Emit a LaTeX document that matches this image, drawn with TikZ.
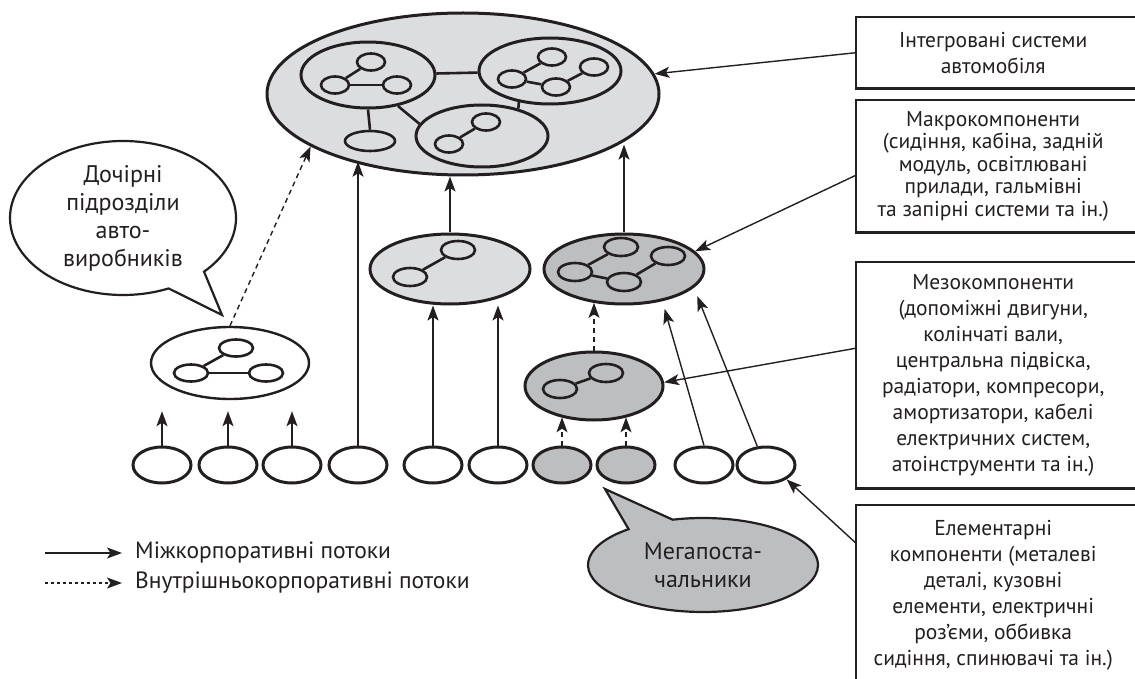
\documentclass[tikz,border=0pt]{standalone}
\usepackage{fontspec}
\setmainfont{PT Sans}
\usetikzlibrary{arrows.meta,positioning,shapes.geometric,shapes.callouts}
\definecolor{ink}{HTML}{231F20}
\definecolor{paleg}{HTML}{DCDDDF}
\definecolor{midg}{HTML}{BCBEC0}

\begin{document}
\begin{tikzpicture}[x=1pt,y=-1pt,font=\fontsize{21.5}{26}\selectfont,
  >={Stealth[length=15pt,width=11pt,inset=3.5pt]},
  ov/.style={ellipse,draw=ink,line width=3pt,inner sep=0pt},
  dot/.style={ov,line width=2.6pt,minimum width=28pt,minimum height=17pt},
  bead/.style={ov,line width=2.6pt,minimum width=34pt,minimum height=18pt},
  part/.style={ov,fill=white,minimum width=58pt,minimum height=36pt},
  lnk/.style={ink,line width=2.6pt},
  fl/.style={->,ink,line width=1.4pt},
  ifl/.style={fl,dash pattern=on 5pt off 4pt},
  lbl/.style={align=center,inner sep=0pt,text=ink},
  frame/.style={draw=ink,line width=2.6pt},
  bub/.style={ellipse callout,draw=ink,line width=2.2pt,inner sep=0pt,align=center,
              font=\fontsize{24}{28}\selectfont,text=ink}]
\useasboundingbox (0,0) rectangle (1135,679);
% ---------------- integrated systems
\node[ov,fill=paleg,minimum width=392pt,minimum height=162pt] (top) at (463,94) {};
\node[ov,fill=paleg,minimum width=134pt,minimum height=66pt] (g1) at (368,75) {};
\node[ov,fill=paleg,minimum width=142pt,minimum height=66pt] (g2) at (550,71) {};
\node[ov,fill=paleg,minimum width=132pt,minimum height=62pt] (g3) at (482,136) {};
\node[ov,minimum width=50pt,minimum height=20pt,line width=2.6pt] (lone) at (370,141) {};
\draw[lnk] (g1) -- (g2);
\draw[lnk] (g1.-46) -- (g3.169);
\draw[lnk] (g2.225) -- (g3.37);
\draw[lnk] (g1.south) -- (lone.north);
\node[dot] (g1t) at (371,62) {};
\node[dot] (g1l) at (335,85) {};
\node[dot] (g1r) at (397,85) {};
\node[dot] (g2t) at (552,57) {};
\node[dot] (g2l) at (512,79) {};
\node[dot] (g2b) at (556,87) {};
\node[dot] (g2r) at (594,67) {};
\node[dot] (g3t) at (486,122) {};
\node[dot] (g3b) at (449,144) {};
\foreach \x/\y in {g1l/g1r,g1l/g1t,g2l/g2t,g2l/g2b,g2b/g2r,g3b/g3t} \draw[lnk] (\x) -- (\y);
% ---------------- macro / meso components
\node[ov,fill=paleg,minimum width=160pt,minimum height=70pt] (m1) at (450,269) {};
\node[bead] (m1a) at (410,277) {};
\node[bead] (m1b) at (458,250) {};
\node[ov,fill=midg,minimum width=160pt,minimum height=70pt] (m2) at (624,269) {};
\node[bead] (m2t) at (621,247) {};
\node[bead] (m2l) at (575,272) {};
\node[bead] (m2b) at (624,282) {};
\node[bead] (m2r) at (668,256) {};
\node[ov,fill=midg,minimum width=138pt,minimum height=68pt] (m3) at (594,386) {};
\node[bead] (m3a) at (560,389) {};
\node[bead] (m3b) at (606,373) {};
\node[ov,fill=white,minimum width=158pt,minimum height=72pt,line width=2.4pt] (lc) at (230,363) {};
\node[bead,minimum height=17pt] (lct) at (236,348) {};
\node[bead,minimum height=17pt] (lcl) at (191,373) {};
\node[bead,minimum height=17pt] (lcr) at (266,373) {};
\foreach \x/\y in {m1a/m1b,m2l/m2t,m2l/m2b,m2b/m2r,m3a/m3b,lcl/lcr,lcl/lct} \draw[lnk] (\x) -- (\y);
% ---------------- elementary parts
\foreach \n/\x in {1/162,2/228,3/292,4/358,5/433,6/498,9/704,10/766}
  \node[part] (b\n) at (\x,465) {};
\foreach \n/\x in {7/562,8/626} \node[part,fill=midg] (b\n) at (\x,465) {};
% ---------------- flows
\foreach \n in {1,2,3} \draw[fl,shorten >=11pt] (b\n.north) -- (b\n.north |- lc.south);
\draw[fl] (b4.north) -- (b4.north |- top.211);
\foreach \n in {5,6} \draw[fl] (b\n.north) -- (b\n.north |- m1.south);
\draw[fl] (m1.north) -- (m1.north |- top.south);
\draw[fl] (m2.north) -- (m2.north |- top.-18);
\draw[ifl] (lc.north) -- (top.199);
\draw[ifl] (b7.north) -- (b7.north |- m3.223);
\draw[ifl] (b8.north) -- (b8.north |- m3.-43);
\draw[ifl] (m3.north) -- (m3.north |- m2.228);
\draw[fl,shorten >=8pt] (b9.north) -- (m2.-40);
\draw[fl,shorten >=9pt] (b10.115) -- (m2.-15);
% ---------------- level boxes
\node[lbl,anchor=north west,minimum width=274pt,minimum height=71pt] (s1) at (856,17)
  {Інтегровані системи\\автомобіля};
\node[lbl,anchor=north west,minimum width=274pt,minimum height=132pt,
  font=\fontsize{21.5}{22.5}\selectfont] (s2) at (856,100)
  {Макрокомпоненти\\(сидіння, кабіна, задній\\модуль, освітлювані\\прилади, гальмівні\\та запірні системи та ін.)};
\node[lbl,anchor=north west,minimum width=274pt,minimum height=226pt] (s3) at (856,262)
  {Мезокомпоненти\\(допоміжні двигуни,\\колінчаті вали,\\центральна підвіска,\\радіатори, компресори,\\амортизатори, кабелі\\електричних систем,\\атоінструменти та ін.)};
\node[lbl,anchor=north west,minimum width=274pt,minimum height=180pt] (s4) at (856,505)
  {Елементарні\\компоненти (металеві\\деталі, кузовні\\елементи, електричні\\роз’єми, оббивка\\сидіння, спинювачі та ін.)};
\foreach \n in {s1,s2,s3,s4} \draw[frame] (\n.north west) rectangle ([xshift=40pt]\n.south east);
\draw[fl] (s1.west) -- (top.6);
\draw[fl] ([yshift=-9pt]s2.west) -- (m2.14);
\draw[fl] ([yshift=27pt]s3.west) -- (m3.3);
\draw[fl] ([yshift=52pt]s4.west) -- (b10.-35);
% ---------------- callouts
\coordinate (tipL) at (222,315);
\node[bub,fill=white,minimum width=226pt,minimum height=154pt,
  callout absolute pointer={(tipL)},callout pointer arc=22] (sub) at (123,218)
  {Дочірні\\підрозділи\\авто-\\виробників};
\coordinate (tipM) at (605,489);
\node[bub,fill=midg,minimum width=230pt,minimum height=94pt,
  callout absolute pointer={(tipM)},callout pointer arc=25] (mega) at (703,565)
  {Мегапоста-\\чальники};
% ---------------- legend
\node[lbl,anchor=west,font=\fontsize{23.5}{28}\selectfont] (k1) at (135,553) {Міжкорпоративні потоки};
\node[lbl,anchor=west,font=\fontsize{23.5}{28}\selectfont] (k2) at (135,583) {Внутрішньокорпоративні потоки};
\coordinate (k1a) at (45,553);
\coordinate (k2a) at (45,583);
\draw[fl,shorten >=13pt] (k1a) -- (k1.west);
\draw[fl,dash pattern=on 3pt off 3pt,shorten >=13pt] (k2a) -- (k2.west);
\end{tikzpicture}
\end{document}
